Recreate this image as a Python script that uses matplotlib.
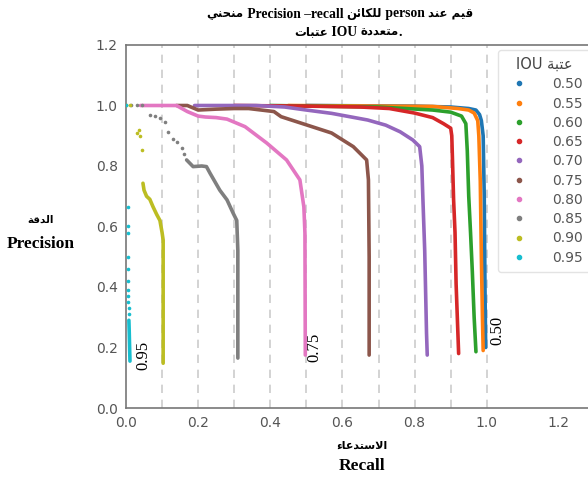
import matplotlib
matplotlib.use('Agg')
import matplotlib.pyplot as plt
from matplotlib.lines import Line2D
from matplotlib.offsetbox import TextArea, HPacker, AnnotationBbox

# IoU thresholds and their curves (recall, precision)
iou_labels = ['0.50', '0.55', '0.60', '0.65', '0.70', '0.75', '0.80', '0.85', '0.90', '0.95']
colors = ['#1f77b4', '#ff7f0e', '#2ca02c', '#d62728', '#9467bd',
          '#8c564b', '#e377c2', '#7f7f7f', '#bcbd22', '#17becf']

r50 = [0.50, 0.80, 0.90, 0.95, 0.97, 0.98, 0.985, 0.99, 0.993, 0.995, 0.997]
p50 = [1.00, 0.998, 0.995, 0.99, 0.985, 0.97, 0.95, 0.90, 0.70, 0.40, 0.20]

r55 = [0.45, 0.85, 0.92, 0.95, 0.965, 0.975, 0.978, 0.982, 0.985, 0.988, 0.99]
p55 = [1.00, 0.997, 0.99, 0.985, 0.975, 0.95, 0.90, 0.75, 0.50, 0.30, 0.19]

r60 = [0.40, 0.70, 0.85, 0.90, 0.93, 0.942, 0.946, 0.95, 0.955, 0.96, 0.965, 0.97]
p60 = [1.00, 0.995, 0.985, 0.978, 0.965, 0.94, 0.85, 0.70, 0.58, 0.45, 0.30, 0.186]

r65 = [0.30, 0.50, 0.65, 0.73, 0.80, 0.85, 0.88, 0.90, 0.903, 0.905, 0.908, 0.912, 0.915, 0.922]
p65 = [1.00, 0.998, 0.995, 0.99, 0.975, 0.96, 0.94, 0.925, 0.90, 0.82, 0.69, 0.58, 0.41, 0.18]

r70 = [0.19, 0.36, 0.44, 0.50, 0.57, 0.62, 0.67, 0.72, 0.76, 0.795, 0.814, 0.82, 0.823, 0.828, 0.833, 0.835]
p70 = [1.00, 1.00, 0.995, 0.985, 0.974, 0.963, 0.952, 0.935, 0.913, 0.886, 0.864, 0.80, 0.69, 0.52, 0.248, 0.175]

r75 = [0.14, 0.17, 0.20, 0.25, 0.30, 0.34, 0.41, 0.43, 0.50, 0.57, 0.63, 0.667, 0.672, 0.674, 0.674]
p75 = [1.00, 1.00, 0.985, 0.988, 0.99, 0.99, 0.98, 0.963, 0.936, 0.909, 0.864, 0.82, 0.754, 0.50, 0.175]

r80 = [0.04, 0.14, 0.17, 0.20, 0.22, 0.25, 0.28, 0.33, 0.39, 0.445, 0.482, 0.493, 0.496, 0.497]
p80 = [1.00, 1.00, 0.98, 0.965, 0.962, 0.96, 0.955, 0.93, 0.876, 0.82, 0.754, 0.665, 0.578, 0.175]

r85 = [0.168, 0.186, 0.21, 0.223, 0.233, 0.26, 0.28, 0.297, 0.307, 0.31, 0.31]
p85 = [0.82, 0.798, 0.80, 0.798, 0.776, 0.72, 0.688, 0.644, 0.62, 0.52, 0.165]
r85_dots = [0.0, 0.015, 0.03, 0.045, 0.066, 0.08, 0.094, 0.108, 0.117, 0.13, 0.14, 0.154, 0.16]
p85_dots = [1.0, 1.0, 1.0, 1.0, 0.967, 0.965, 0.96, 0.946, 0.913, 0.89, 0.88, 0.86, 0.84]

r90 = [0.047, 0.05, 0.057, 0.066, 0.075, 0.085, 0.094, 0.10, 0.103, 0.103]
p90 = [0.743, 0.72, 0.70, 0.69, 0.665, 0.64, 0.62, 0.58, 0.555, 0.148]
r90_dots = [0.0, 0.01, 0.03, 0.035, 0.04, 0.043]
p90_dots = [1.0, 1.0, 0.91, 0.92, 0.90, 0.853]

r95 = [0.008, 0.009, 0.01, 0.011]
p95 = [0.29, 0.25, 0.20, 0.155]
r95_dots = [0.0, 0.005, 0.005, 0.005, 0.005, 0.005, 0.005, 0.005, 0.006, 0.006, 0.007, 0.007]
p95_dots = [1.0, 0.665, 0.60, 0.58, 0.50, 0.46, 0.42, 0.39, 0.37, 0.35, 0.33, 0.31]

# (isolated, final, initial, medial)
FORMS = {
    'ء': ('\uFE80', None, None, None),
    'ا': ('\uFE8D', '\uFE8E', None, None),
    'ب': ('\uFE8F', '\uFE90', '\uFE91', '\uFE92'),
    'ة': ('\uFE93', '\uFE94', None, None),
    'ت': ('\uFE95', '\uFE96', '\uFE97', '\uFE98'),
    'ح': ('\uFEA1', '\uFEA2', '\uFEA3', '\uFEA4'),
    'د': ('\uFEA9', '\uFEAA', None, None),
    'س': ('\uFEB1', '\uFEB2', '\uFEB3', '\uFEB4'),
    'ع': ('\uFEC9', '\uFECA', '\uFECB', '\uFECC'),
    'ق': ('\uFED5', '\uFED6', '\uFED7', '\uFED8'),
    'ك': ('\uFED9', '\uFEDA', '\uFEDB', '\uFEDC'),
    'ل': ('\uFEDD', '\uFEDE', '\uFEDF', '\uFEE0'),
    'م': ('\uFEE1', '\uFEE2', '\uFEE3', '\uFEE4'),
    'ن': ('\uFEE5', '\uFEE6', '\uFEE7', '\uFEE8'),
    'ي': ('\uFEF1', '\uFEF2', '\uFEF3', '\uFEF4'),
    'ئ': ('\uFE89', '\uFE8A', '\uFE8B', '\uFE8C'),
    'لا': ('\uFEFB', '\uFEFC', None, None),
}


def shape(word):
    # join arabic letters and put them in visual (left to right) order
    tokens = []
    i = 0
    while i < len(word):
        if word[i:i + 2] == 'لا':
            tokens.append('لا')
            i += 2
        else:
            tokens.append(word[i])
            i += 1
    out = []
    for k, t in enumerate(tokens):
        f = FORMS[t]
        prev_join = k > 0 and FORMS[tokens[k - 1]][2] is not None and f[1] is not None
        next_join = k < len(tokens) - 1 and f[2] is not None and FORMS[tokens[k + 1]][1] is not None
        if prev_join and next_join:
            out.append(f[3])
        elif prev_join:
            out.append(f[1])
        elif next_join:
            out.append(f[2])
        else:
            out.append(f[0])
    return ''.join(reversed(out))


def mixed_line(fig, x, y, parts):
    # parts: list of (text, is_arabic); arabic drawn a bit smaller, like the original
    areas = []
    for txt, arabic in parts:
        if arabic:
            props = dict(fontsize=8.5, weight='bold', family='DejaVu Sans', color='black')
        else:
            props = dict(fontsize=9.8, weight='bold', family='Liberation Serif', color='black')
        areas.append(TextArea(txt, textprops=props))
    box = HPacker(children=areas, align='baseline', pad=0, sep=0)
    ab = AnnotationBbox(box, (x, y), xycoords='figure fraction', frameon=False,
                        box_alignment=(0.5, 0.5), pad=0)
    fig.add_artist(ab)


def main():
    serif = ['Liberation Serif', 'DejaVu Sans']
    fig = plt.figure(figsize=(5.88, 4.79), dpi=100)
    ax = fig.add_axes([126 / 588, 71 / 479, 469 / 588, 363 / 479])

    lines = [(r50, p50), (r55, p55), (r60, p60), (r65, p65), (r70, p70),
             (r75, p75), (r80, p80), (r85, p85), (r90, p90), (r95, p95)]
    dots = {7: (r85_dots, p85_dots), 8: (r90_dots, p90_dots), 9: (r95_dots, p95_dots)}

    for x in [0.1, 0.2, 0.3, 0.4, 0.5, 0.6, 0.7, 0.8, 0.9, 1.0]:
        ax.axvline(x, color='#cccccc', lw=1.2, ls=(0, (5, 4)), zorder=0)

    for k, (r, p) in enumerate(lines):
        ax.plot(r, p, color=colors[k], lw=2.6, solid_capstyle='round', zorder=2 + k)
        if k in dots:
            ax.plot(dots[k][0], dots[k][1], 'o', color=colors[k], ms=2.6, mec='none', zorder=2 + k)

    ax.set_xlim(0, 1.3)
    ax.set_ylim(0, 1.2)
    ax.set_xticks([0.0, 0.2, 0.4, 0.6, 0.8, 1.0, 1.2])
    ax.set_yticks([0.0, 0.2, 0.4, 0.6, 0.8, 1.0, 1.2])
    ax.tick_params(length=0, labelsize=10, labelcolor='#555555', pad=6)
    for s in ax.spines.values():
        s.set_color('#777777')
        s.set_linewidth(1.2)
    ax.spines['right'].set_visible(False)

    ax.text(0.047, 0.175, '0.95', rotation=90, ha='center', va='center', fontsize=12, family=serif)
    ax.text(0.523, 0.2, '0.75', rotation=90, ha='center', va='center', fontsize=12, family=serif)
    ax.text(1.03, 0.255, '0.50', rotation=90, ha='center', va='center', fontsize=12, family=serif)

    handles = [Line2D([], [], marker='o', ls='none', color=c, ms=3) for c in colors]
    ax.legend(handles, iou_labels, title='IOU ' + shape('عتبة'), loc='upper left',
              bbox_to_anchor=(498 / 588, 1 - 50 / 479), bbox_transform=fig.transFigure,
              borderaxespad=0, fontsize=10, title_fontsize=10.5, labelcolor='#555555',
              frameon=True, edgecolor='#dddddd', handletextpad=1.4, labelspacing=0.38,
              borderpad=0.5)
    ax.get_legend().get_title().set_color('#444444')

    mixed_line(fig, 340 / 588, 1 - 14 / 479,
               [(shape('منحني'), True), (' Precision \u2013recall ', False), (shape('للكائن'), True),
                (' person ', False), (shape('عند') + ' ' + shape('قيم'), True)])
    mixed_line(fig, 348 / 588, 1 - 32 / 479,
               [(shape('عتبات'), True), (' IOU ', False), (shape('متعددة'), True), ('.', False)])

    fig.text(41 / 588, 1 - 220 / 479, shape('الدقة'), ha='center', va='center', fontsize=7.5,
             weight='bold', family=serif)
    fig.text(41 / 588, 1 - 244 / 479, 'Precision', ha='center', va='center', fontsize=12.5,
             weight='bold', family=serif)
    fig.text(362 / 588, 1 - 446 / 479, shape('الاستدعاء'), ha='center', va='center', fontsize=8,
             weight='bold', family=serif)
    fig.text(362 / 588, 1 - 466 / 479, 'Recall', ha='center', va='center', fontsize=12.5,
             weight='bold', family=serif)

    fig.savefig('out.png', dpi=100)


if __name__ == '__main__':
    main()
